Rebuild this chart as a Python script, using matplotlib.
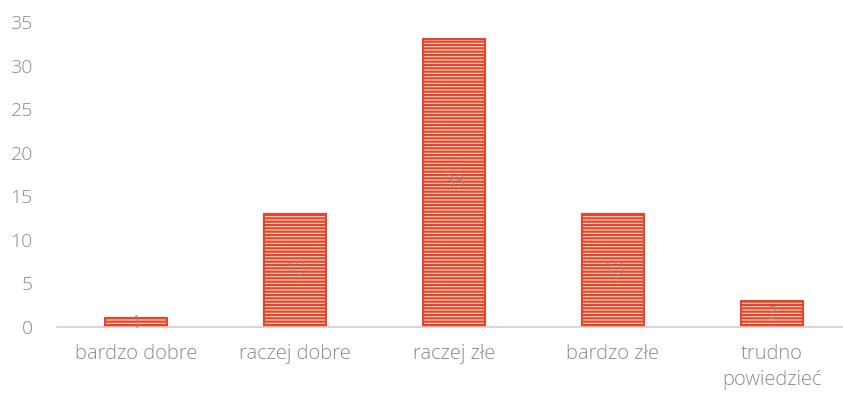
import numpy as np
import matplotlib
matplotlib.use("Agg")
import matplotlib.pyplot as plt

categories = ["bardzo dobre", "raczej dobre", "raczej złe", "bardzo złe", "trudno\npowiedzieć"]
values = [1, 13, 33, 13, 3]
y_ticks = [0, 5, 10, 15, 20, 25, 30, 35]

plt.rcParams['font.family'] = ['Open Sans', 'DejaVu Sans']
plt.rcParams['hatch.color'] = '#e8432c'
plt.rcParams['hatch.linewidth'] = 1.6

fig = plt.figure(figsize=(8.43, 4.2), dpi=100)
ax = fig.add_axes([56.5 / 843, 93 / 420, 795 / 843, 305 / 420])

x_pos = np.arange(len(categories))
bars = ax.bar(x_pos, values, width=0.39, color='#fbe0c4', edgecolor='#e8432c',
              linewidth=1.5, hatch='-----', zorder=2)

for i, v in enumerate(values):
    ax.text(i, v / 2, str(v), ha='center', va='center', fontsize=14,
            color='#8a8a8a', fontweight='light', zorder=5)

ax.set_xlim(-0.5, len(categories) - 0.5)
ax.set_ylim(0, 35)
ax.set_yticks(y_ticks)
ax.set_xticks(x_pos)
ax.set_xticklabels(categories, fontsize=14.5, color='#8a8a8a', linespacing=1.4,
                   fontweight='light')
for t in ax.get_yticklabels():
    t.set_fontweight('light')
ax.tick_params(axis='y', labelsize=14, labelcolor='#8a8a8a', length=0, pad=17)
ax.tick_params(axis='x', length=0, pad=12)
for s in ['top', 'right', 'left']:
    ax.spines[s].set_visible(False)
ax.spines['bottom'].set_color('#d0d0d0')
ax.spines['bottom'].set_linewidth(1.2)

fig.savefig("out.png", dpi=100)
